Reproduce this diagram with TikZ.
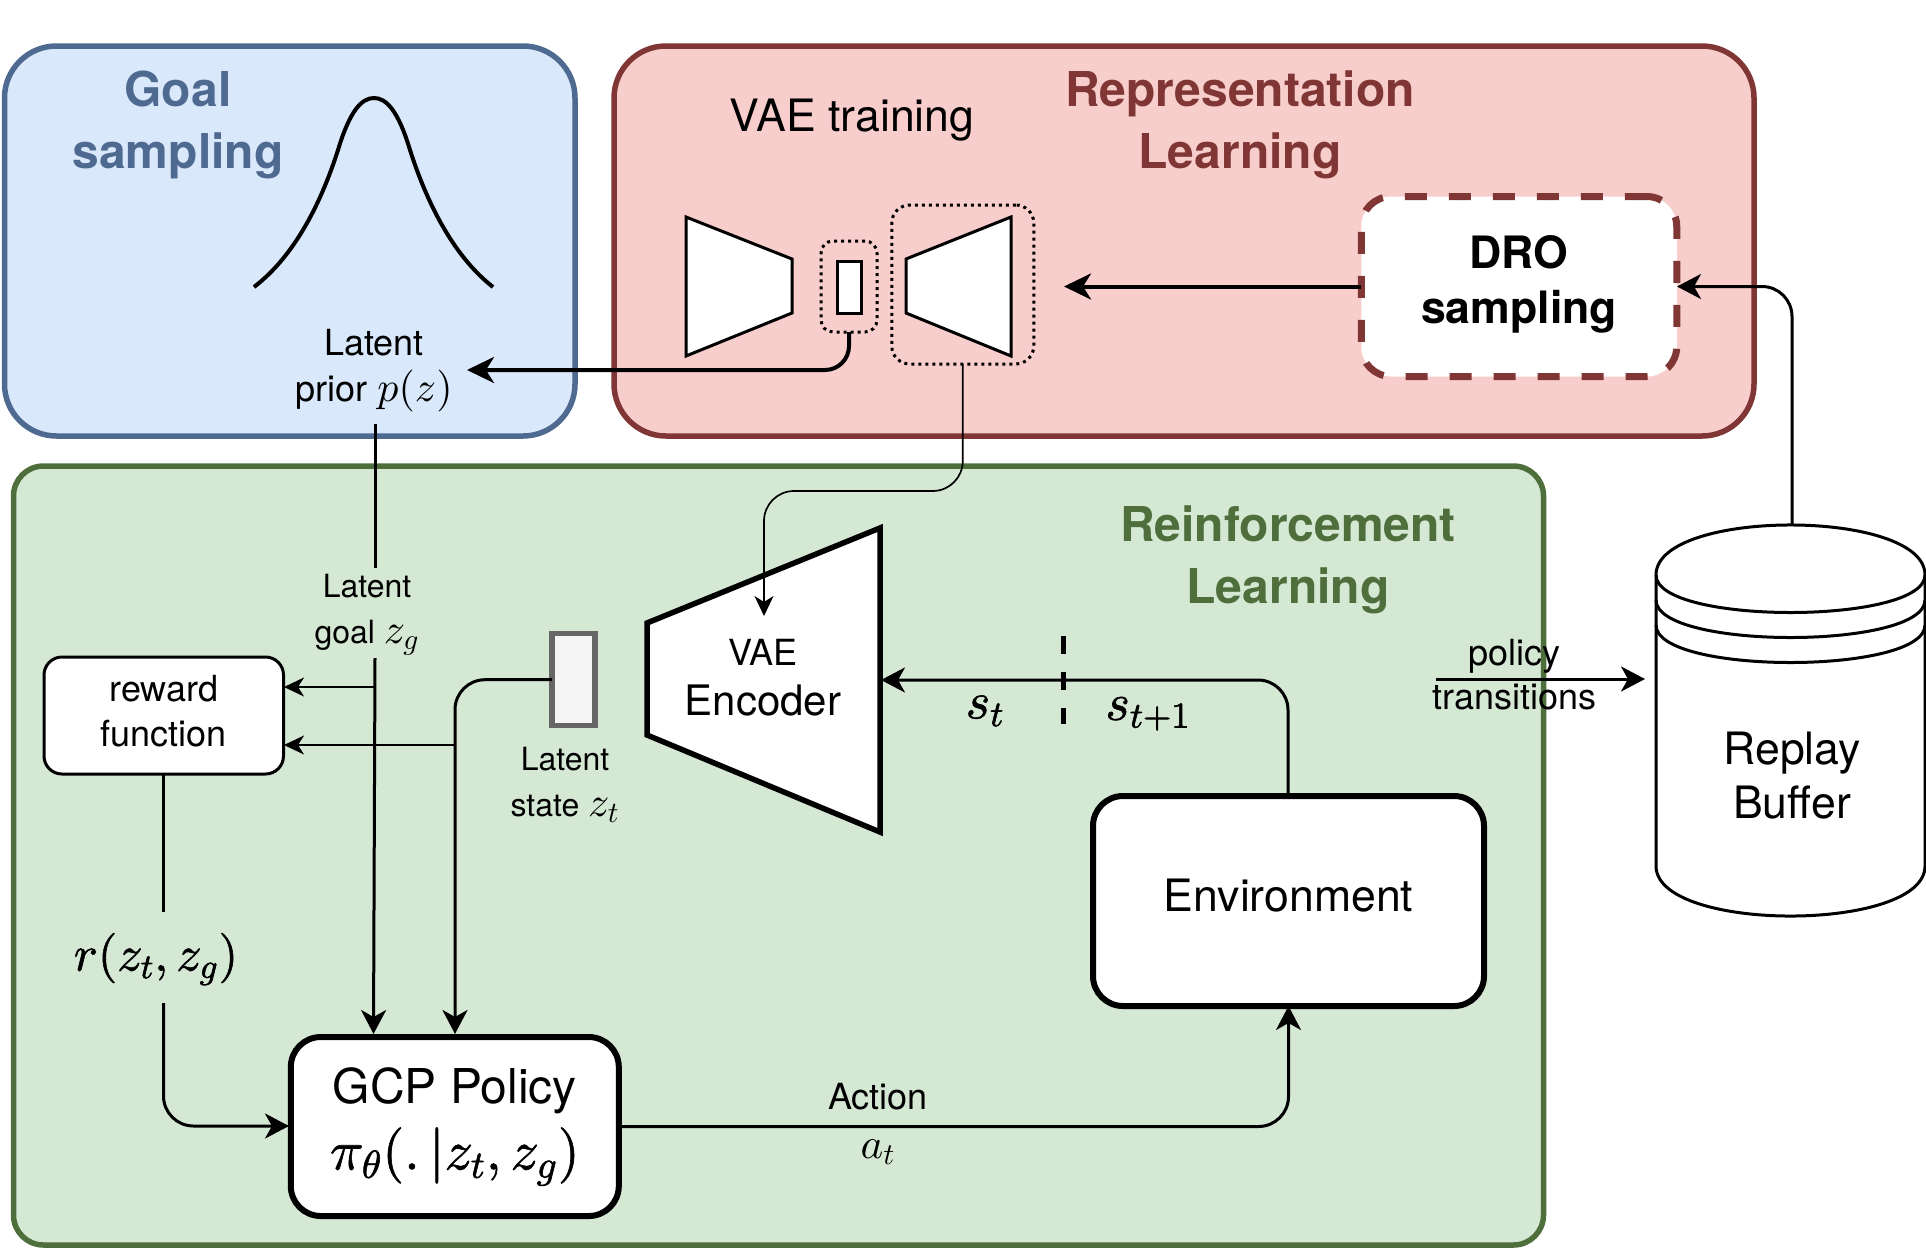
\documentclass[tikz,border=0pt]{standalone}
\usepackage{amsmath}
\usepackage{xcolor}
\usepackage{fontspec}
\setmainfont{TeX Gyre Heros}
\DeclareFontShape{OML}{cmm}{m}{it}{<->cmmi10}{}
\DeclareFontShape{OT1}{cmr}{m}{n}{<->cmr10}{}
\DeclareFontShape{OMS}{cmsy}{m}{n}{<->cmsy10}{}
\usetikzlibrary{arrows.meta}
\definecolor{goalfill}{HTML}{DAE8FC}
\definecolor{goaldark}{HTML}{4F6A90}
\definecolor{repfill}{HTML}{F8CECC}
\definecolor{repdark}{HTML}{7F3635}
\definecolor{rlfill}{HTML}{D5E8D4}
\definecolor{rldark}{HTML}{4E6E3C}
\newcommand{\lm}[1]{{\fontsize{21}{23}\selectfont$#1$}}
\newcommand{\heavy}[1]{\special{pdf:code q 2 Tr 0.3 w}#1\special{pdf:code Q}}
\tikzset{
  panel/.style={draw,line width=2.75pt,rounded corners=26pt,inner sep=0pt,outer sep=0pt},
  title/.style={font=\fontsize{24}{31}\selectfont\bfseries,align=center},
  small/.style={font=\fontsize{18}{23}\selectfont,align=center},
  tiny/.style={font=\fontsize{16}{23}\selectfont,align=center},
  mid/.style={font=\fontsize{22.3}{27}\selectfont,align=center},
  whitebox/.style={draw,fill=white,inner sep=0pt,outer sep=0pt},
  dotbox/.style={draw,dotted,line width=1.5pt,inner sep=0pt,outer sep=0pt},
  net/.style={draw,fill=white,line width=1.5pt,line join=miter},
  bigtip/.style={-{Stealth[length=13.5pt,width=13pt,inset=4pt]},line width=2pt},
  midtip/.style={-{Stealth[length=12pt,width=12.5pt,inset=3.5pt]},line width=1.5pt},
  thintip/.style={-{Stealth[length=10pt,width=9.5pt,inset=3pt]},line width=1pt}
}
\begin{document}
\begin{tikzpicture}[x=0.5pt,y=-0.5pt]
\useasboundingbox (0,0) rectangle (1926,1248);

\node[panel,fill=goalfill,draw=goaldark,minimum width=285.25pt,minimum height=195pt] (goalpanel) at (289.75,241) {};
\node[panel,fill=repfill,draw=repdark,minimum width=570pt,minimum height=195pt] (reppanel) at (1184,241) {};
\node[panel,fill=rlfill,draw=rldark,rounded corners=15pt,minimum width=765pt,minimum height=389.5pt] (rlpanel) at (778.5,855.5) {};

\node[title,text=goaldark] (goaltitle) at (178,125) {Goal\\sampling};
\node[title,text=repdark] (reptitle) at (1240,125) {Representation\\Learning};
\node[title,text=rldark] (rltitle) at (1288,560) {Reinforcement\\Learning};

\draw[line width=2pt] (254,287) .. controls (296,255) and (322,200) .. (338,150)
  .. controls (350,110) and (362,98) .. (374,98)
  .. controls (386,98) and (398,110) .. (410,150)
  .. controls (426,200) and (452,255) .. (493,287);

\node[small] (priorlabel) at (374,371) {Latent\\prior \lm{p(z)}};
\node[font=\fontsize{22.3}{27}\selectfont] (vaetrain) at (852,120) {VAE training};

\draw[net] (686,217) -- (792,259) -- (792,313) -- (686,356) -- cycle;
\draw[net] (1011,217) -- (906,259) -- (906,313) -- (1011,356) -- cycle;
\node[whitebox,line width=1.5pt,minimum width=12pt,minimum height=26pt] (zbox) at (849,287) {};
\node[dotbox,rounded corners=6pt,minimum width=28pt,minimum height=45.5pt] (zdot) at (849,286.5) {};
\node[dotbox,rounded corners=9pt,minimum width=71pt,minimum height=79.5pt] (decdot) at (962.75,284.5) {};

\node[draw=repdark,fill=white,line width=3.5pt,dash pattern=on 11pt off 11pt,rounded corners=15pt,minimum width=157.75pt,minimum height=90pt,inner sep=0pt,outer sep=0pt,font=\fontsize{22.3}{27.5}\selectfont\bfseries,align=center,text depth=7pt] (dro) at (1519,286.5) {DRO\\sampling};

\coordinate (priortip) at (467,370);
\coordinate (dectip) at (1064,286.5);
\coordinate (drotip) at (1677,286.5);
\coordinate (encbend) at (764,491);
\coordinate (enctip) at (764,616);
\coordinate (buftop) at (1792,525);

\draw[bigtip,rounded corners=12pt] (zdot.south) |- (priortip);
\draw[bigtip] (dro.west) -- (dectip);
\draw[midtip,rounded corners=15pt] (buftop) |- (drotip);

\draw[fill=white,line join=miter,line width=2.75pt] (880,528) -- (647,623) -- (647,735) -- (880,832) -- cycle;
\node[font=\fontsize{18}{23}\selectfont] (vaelabel) at (763,652) {VAE};
\node[font=\fontsize{21}{27}\selectfont] (enclabel) at (763,700) {Encoder};
\draw[thintip,line width=0.85pt,rounded corners=15pt] (decdot.south) |- (encbend) -- (enctip);

\node[whitebox,line width=1.5pt,rounded corners=9pt,minimum width=119.75pt,minimum height=58.5pt,font=\fontsize{18}{22.4}\selectfont,align=center,text depth=4.5pt] (reward) at (163.75,715.5) {reward\\function};
\node[draw=black!60,fill=black!4,line width=2.75pt,minimum width=21.4pt,minimum height=46pt,inner sep=0pt,outer sep=0pt] (zstate) at (573.5,679.7) {};
\node[tiny] (goallabel) at (367,615) {Latent\\goal \lm{z_g}};
\node[tiny] (statelabel) at (565,785) {Latent\\state \lm{z_t}};

\node[whitebox,line width=3pt,rounded corners=15pt,minimum width=164pt,minimum height=89.5pt,font=\fontsize{24}{33}\selectfont,align=center] (gcp) at (454.8,1126.5) {GCP Policy\\{\fontsize{28}{33}\selectfont\heavy{$\pi_\theta(.\,|z_t,z_g)$}}};
\node[whitebox,line width=3pt,rounded corners=15pt,minimum width=195.5pt,minimum height=105pt,mid,text depth=6pt] (env) at (1288.5,901) {Environment};

\node[font=\fontsize{25}{30}\selectfont] (rlabel) at (156,959) {\heavy{$r(z_t,z_g)$}};
\node[small] (actlabel) at (878,1097) {Action};
\node[font=\fontsize{21.6}{23}\selectfont] (atlabel) at (878,1152) {$a_t$};
\node[font=\fontsize{26}{30}\selectfont] (stlabel) at (985,711) {\heavy{$s_t$}};
\node[font=\fontsize{26}{30}\selectfont] (stnext) at (1148,714) {\heavy{$s_{t+1}$}};

\coordinate (goalstop) at (375.5,568);
\coordinate (goalstart) at (375,658);
\coordinate (gcpgoal) at (373.5,1034);
\coordinate (gcpstate) at (455,1034);
\coordinate (goalbranch) at (375,687);
\coordinate (statebranch) at (455,745);
\coordinate (rewardgoal) at (284,687);
\coordinate (rewardstate) at (284,745);
\coordinate (rstop) at (163.5,912);
\coordinate (rstart) at (163.5,1003);
\coordinate (gcpleft) at (289,1126);
\coordinate (envout) at (1288,796);
\coordinate (encin) at (881,680);

\draw[line width=1.5pt] (375.5,424) -- (goalstop);
\draw[midtip] (goalstart) -- (gcpgoal);
\draw[thintip] (goalbranch) -- (rewardgoal);
\draw[midtip,rounded corners=15pt] (zstate.west) -| (gcpstate);
\draw[thintip] (statebranch) -- (rewardstate);
\draw[line width=1.5pt] (163.5,774) -- (rstop);
\draw[midtip,rounded corners=15pt] (rstart) |- (gcpleft);
\draw[midtip,rounded corners=15pt] (gcp.east) -| (env.south);
\draw[midtip,rounded corners=15pt] (envout) |- (encin);
\draw[line width=2.75pt,dash pattern=on 9pt off 9pt] (1063.5,636) -- (1063.5,724);

\draw[fill=white,line width=1.5pt] (1656,575) .. controls (1656,508.3) and (1925,508.3) .. (1925,575)
  -- (1925,866) .. controls (1925,932.7) and (1656,932.7) .. (1656,866) -- cycle;
\draw[line width=1.5pt] (1656,575) .. controls (1656,625) and (1925,625) .. (1925,575);
\draw[line width=1.5pt] (1656,600) .. controls (1656,650) and (1925,650) .. (1925,600);
\draw[line width=1.5pt] (1656,625) .. controls (1656,675) and (1925,675) .. (1925,625);
\node[mid] (buffer) at (1792,776) {Replay\\Buffer};

\node[font=\fontsize{18}{22}\selectfont,align=center] (translabel) at (1514.5,675) {policy\\transitions};
\coordinate (transstart) at (1436,679);
\coordinate (transtip) at (1645,679);
\draw[midtip] (transstart) -- (transtip);
\end{tikzpicture}
\end{document}
